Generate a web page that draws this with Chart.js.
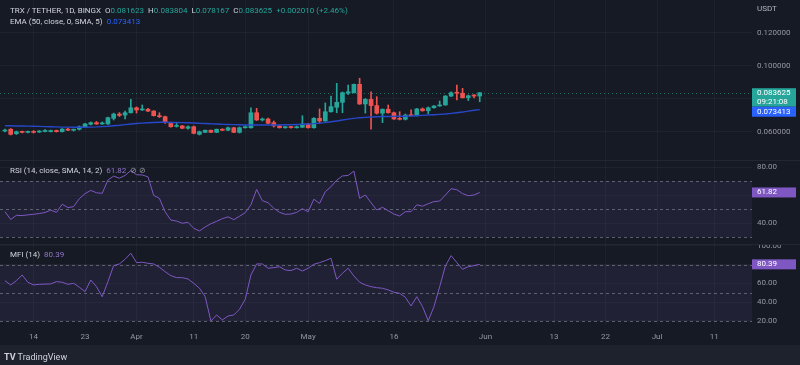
<!DOCTYPE html>
<html>
<head>
<meta charset="utf-8">
<script src="https://cdn.jsdelivr.net/npm/chart.js@4.4.0/dist/chart.umd.min.js"></script>
<style>
  html, body { margin: 0; padding: 0; width: 800px; height: 365px; overflow: hidden; background: #161a25; font-family: Roboto, "Liberation Sans", sans-serif; }
  .pane { position: absolute; left: 0; width: 800px; }
  canvas { display: block; }
  .lbl { position: absolute; font-size: 8px; line-height: 10px; color: #b2b5be; white-space: nowrap; }
  .lbl span { margin-left: 4px; }
  .lbl b { font-weight: normal; }
  .up { color: #26a69a; }
  .blue { color: #2962ff; }
  .purple { color: #9575cd; }
  .sep { position: absolute; left: 0; width: 800px; height: 1px; background: #232734; }
  #footer { position: absolute; left: 0; top: 345px; width: 800px; height: 20px; background: #1e222d; }
</style>
</head>
<body>
<div class="pane" style="top:0;height:160px"><canvas id="main" width="800" height="160"></canvas></div>
<div class="sep" style="top:160px"></div>
<div class="pane" style="top:161px;height:83px"><canvas id="rsi" width="800" height="83"></canvas></div>
<div class="sep" style="top:244px"></div>
<div class="pane" style="top:245px;height:100px"><canvas id="mfi" width="800" height="100"></canvas></div>
<div id="footer"></div>

<div class="lbl" style="left:10px;top:6px;color:#d1d4dc">TRX / TETHER, 1D, BINGX<span>O<b class="up">0.081623</b></span><span>H<b class="up">0.083804</b></span><span>L<b class="up">0.078167</b></span><span>C<b class="up">0.083625</b></span><span class="up">+0.002010 (+2.46%)</span></div>
<div class="lbl" style="left:10px;top:17px;color:#d1d4dc">EMA (50, close, 0, SMA, 5)<span class="blue">0.073413</span></div>
<div class="lbl" style="left:757px;top:4px;color:#b2b5be">USDT</div>
<div class="lbl" style="left:10px;top:166px;color:#d1d4dc">RSI (14, close, SMA, 14, 2)<span class="purple">61.82</span><span style="color:#9598a1">⊘ ⊘</span></div>
<div class="lbl" style="left:10px;top:250px;color:#d1d4dc">MFI (14)<span class="purple">80.39</span></div>
<div class="lbl" style="left:4px;top:352px;color:#d1d4dc;font-size:9px"><b style="font-weight:bold">TV</b> TradingView</div>

<script>
// TRX / USDT daily, Mar 9 .. May 31 (day index 0 = Mar 9)
const opens = [
  .0604, .0615, .0588, .0601, .0596, .0601, .0598, .0601, .0601, .0607,
  .0600, .0616, .0609, .0615, .0628, .0645, .0655, .0647, .0647, .0681,
  .0707, .0701, .0715, .0745, .0732, .0736, .0725, .0697, .0691, .0655,
  .0632, .0635, .0621, .0630, .0584, .0596, .0609, .0596, .0615, .0609,
  .0624, .0596, .0624, .0624, .0715, .0671, .0677, .0655, .0635, .0624,
  .0627, .0624, .0627, .0647, .0624, .0681, .0665, .0721, .0748, .0778,
  .0833, .0836, .0887, .0768, .0796, .0758, .0712, .0736, .0715, .0681,
  .0675, .0701, .0697, .0738, .0727, .0745, .0756, .0762, .0816, .0839,
  .0833, .0806, .0822, .081623
];
const highs = [
  .0616, .0619, .0604, .0604, .0604, .0607, .0607, .0613, .0610, .0610,
  .0619, .0622, .0616, .0635, .0650, .0659, .0662, .0659, .0689, .0713,
  .0716, .0725, .0796, .0750, .0762, .0741, .0728, .0715, .0695, .0659,
  .0651, .0638, .0635, .0635, .0604, .0610, .0610, .0616, .0618, .0628,
  .0627, .0628, .0635, .0745, .0742, .0683, .0683, .0665, .0641, .0632,
  .0632, .0635, .0697, .0650, .0686, .0738, .0774, .0816, .0893, .0841,
  .0883, .0889, .0924, .0801, .0842, .0812, .0738, .0762, .0719, .0721,
  .0707, .0732, .0741, .0744, .0750, .0759, .0786, .0819, .0841, .0883,
  .0863, .0822, .0825, .083804
];
const lows = [
  .0598, .0580, .0583, .0592, .0593, .0592, .0595, .0598, .0598, .0598,
  .0598, .0606, .0604, .0610, .0625, .0641, .0644, .0644, .0644, .0671,
  .0692, .0677, .0713, .0713, .0728, .0722, .0695, .0686, .0650, .0628,
  .0628, .0618, .0616, .0587, .0580, .0594, .0595, .0594, .0606, .0606,
  .0594, .0592, .0622, .0622, .0668, .0665, .0647, .0628, .0622, .0621,
  .0621, .0622, .0624, .0621, .0621, .0651, .0663, .0719, .0715, .0715,
  .0825, .0835, .0765, .0713, .0615, .0707, .0655, .0712, .0674, .0671,
  .0671, .0695, .0695, .0724, .0709, .0742, .0754, .0760, .0813, .0792,
  .0804, .0789, .0804, .078167
];
const closes = [
  .0610, .0584, .0600, .0596, .0601, .0596, .0604, .0606, .0607, .0600,
  .0616, .0609, .0613, .0630, .0647, .0655, .0647, .0653, .0685, .0707,
  .0699, .0715, .0745, .0732, .0736, .0725, .0697, .0691, .0655, .0630,
  .0635, .0621, .0630, .0590, .0600, .0609, .0596, .0615, .0609, .0624,
  .0596, .0624, .0628, .0715, .0671, .0675, .0651, .0635, .0624, .0627,
  .0625, .0630, .0647, .0624, .0681, .0665, .0721, .0752, .0778, .0836,
  .0842, .0887, .0768, .0796, .0758, .0712, .0736, .0715, .0677, .0675,
  .0701, .0697, .0738, .0727, .0745, .0756, .0762, .0816, .0836, .0833,
  .0806, .0818, .0816, .083625
];
const ema50 = [
  .0636, .0636, .0635, .0635, .0634, .0633, .0632, .0631, .0630, .0629,
  .0628, .0628, .0627, .0627, .0627, .0628, .0629, .0631, .0633, .0636,
  .0639, .0643, .0647, .0650, .0652, .0654, .0656, .0657, .0657, .0656,
  .0656, .0655, .0654, .0653, .0651, .0650, .0648, .0647, .0645, .0644,
  .0643, .0642, .0641, .0641, .0641, .0641, .0641, .0641, .0641, .0642,
  .0642, .0644, .0645, .0647, .0649, .0652, .0655, .0660, .0665, .0671,
  .0676, .0681, .0685, .0687, .0689, .0691, .0692, .0692, .0693, .0694,
  .0694, .0695, .0697, .0699, .0701, .0703, .0705, .0707, .0711, .0715,
  .0719, .0725, .0730, .073413
];
const rsi14 = [
  48.1, 42.5, 45.5, 45.3, 45.8, 46.2, 46.8, 47.5, 49.2, 47.6,
  53.4, 51.0, 51.7, 57.4, 61.0, 63.3, 61.6, 61.2, 70.7, 73.5,
  72.0, 74.0, 77.5, 74.5, 74.3, 73.0, 59.7, 57.6, 48.0, 42.1,
  41.4, 39.8, 40.5, 36.2, 34.3, 37.2, 39.5, 41.2, 43.1, 44.4,
  42.4, 44.8, 47.4, 53.0, 64.0, 56.0, 54.5, 50.5, 47.6, 46.2,
  46.4, 47.6, 50.2, 48.0, 57.0, 54.0, 62.4, 65.9, 70.7, 73.6,
  74.0, 77.1, 57.6, 60.0, 54.5, 49.3, 51.2, 48.8, 46.4, 45.0,
  48.1, 48.1, 53.0, 52.0, 53.8, 55.3, 55.7, 60.0, 64.5, 63.8,
  61.0, 59.5, 60.0, 61.82
];
const mfi14 = [
  63.0, 58.4, 63.0, 69.0, 61.3, 58.4, 59.1, 59.3, 59.5, 62.0,
  61.3, 59.1, 60.2, 56.0, 51.3, 63.7, 56.6, 45.9, 62.0, 79.0,
  80.8, 85.8, 92.2, 82.2, 82.6, 81.5, 80.8, 77.3, 72.6, 68.3,
  66.2, 66.2, 64.8, 60.2, 54.9, 45.9, 20.0, 26.4, 21.1, 25.3,
  26.4, 32.5, 43.1, 69.0, 80.8, 80.8, 76.2, 76.9, 77.9, 74.4,
  73.7, 76.2, 73.3, 76.2, 80.5, 82.2, 84.3, 86.9, 64.5, 70.9,
  76.2, 68.0, 61.3, 58.4, 56.6, 55.5, 54.9, 53.1, 50.6, 49.5,
  45.3, 36.0, 45.9, 35.3, 20.3, 35.3, 56.6, 78.7, 89.7, 82.2,
  75.1, 77.9, 79.0, 80.39
];

const tickDays = [5, 14, 23, 33, 42, 53, 68, 84, 96, 105, 114, 124];
const tickLabels = ['14', '23', 'Apr', '11', '20', 'May', '16', 'Jun', '13', '22', 'Jul', '11'];
const priceTicks = [0.06, 0.08, 0.10, 0.12];
const rsiTicks = [40, 60, 80];
const mfiTicks = [20, 40, 60, 80, 100];
const rsiLevels = [70, 50, 30];
const mfiLevels = [80, 50, 20];

const UP = '#26a69a', DOWN = '#ef5350', BLUE = '#2962ff', PURPLE = '#7e57c2';
const EMA_LINE = '#2747c9';
const GRID = 'rgba(255,255,255,0.035)';
const FONT = 'Roboto, "Liberation Sans", sans-serif';
const X_MIN = -0.87, X_MAX = 130.6;
const AXIS_W = 48;

const idx = closes.map((_, i) => i);
const candleColor = idx.map(i => closes[i] >= opens[i] ? UP : DOWN);

function xAxis(withLabels) {
  return {
    type: 'linear', min: X_MIN, max: X_MAX, offset: false,
    afterBuildTicks: s => { s.ticks = tickDays.map(v => ({ value: v })); },
    afterFit: s => { s.height = withLabels ? 20 : 0; s.paddingLeft = 0; s.paddingRight = 0; },
    grid: { color: GRID, drawTicks: false, offset: false },
    border: { display: false },
    ticks: {
      display: withLabels, color: '#9598a1', padding: 7, maxRotation: 0, autoSkip: false,
      font: { size: 8, family: FONT },
      callback: v => tickLabels[tickDays.indexOf(v)]
    }
  };
}

function yAxis(min, max, ticks, hidden, digits) {
  return {
    position: 'right', min, max,
    afterBuildTicks: s => { s.ticks = ticks.map(v => ({ value: v })); },
    afterFit: s => { s.width = AXIS_W; s.paddingTop = 0; s.paddingBottom = 0; },
    grid: { color: GRID, drawTicks: false },
    border: { display: false },
    ticks: {
      color: '#9598a1', padding: 5, font: { size: 8, family: FONT },
      callback: v => hidden.includes(v) ? '' : v.toFixed(digits)
    }
  };
}

function valueBox(ctx, area, y, h, bg, lines) {
  ctx.fillStyle = bg;
  ctx.fillRect(area.right, y, 44, h);
  ctx.fillStyle = '#ffffff';
  ctx.font = '8px ' + FONT;
  ctx.textAlign = 'left';
  ctx.textBaseline = 'middle';
  const lh = h / lines.length;
  lines.forEach((t, k) => ctx.fillText(t, area.right + 5, y + lh * k + lh / 2));
}

const baseOptions = {
  responsive: false, animation: false,
  layout: { padding: 0 },
  plugins: { legend: { display: false }, tooltip: { enabled: false } }
};

// price pane
const lastClose = closes[closes.length - 1];
const lastEma = ema50[ema50.length - 1];
const pricePlugin = {
  id: 'priceMarks',
  beforeDatasetsDraw(chart) {
    const { ctx, chartArea: a, scales: { y } } = chart;
    const py = Math.round(y.getPixelForValue(lastClose)) + 0.5;
    ctx.save();
    ctx.strokeStyle = 'rgba(38,166,154,0.6)';
    ctx.setLineDash([1, 3]);
    ctx.lineWidth = 1;
    ctx.beginPath(); ctx.moveTo(a.left, py); ctx.lineTo(a.right, py); ctx.stroke();
    ctx.restore();
  },
  afterDraw(chart) {
    const { ctx, chartArea: a, scales: { y } } = chart;
    const py = y.getPixelForValue(lastClose);
    const top = py - 4.5;
    ctx.save();
    valueBox(ctx, a, top, 18.5, UP, [lastClose.toFixed(6), '09:21:08']);
    const eTop = Math.max(y.getPixelForValue(lastEma) - 5, top + 18.5);
    valueBox(ctx, a, eTop, 10, BLUE, [lastEma.toFixed(6)]);
    ctx.restore();
  }
};

new Chart(document.getElementById('main'), {
  type: 'bar',
  data: {
    datasets: [
      {
        type: 'line', data: idx.map(i => ({ x: i, y: ema50[i] })),
        borderColor: EMA_LINE, borderWidth: 1.4, pointRadius: 0, tension: 0, order: 0
      },
      {
        data: idx.map(i => ({ x: i, y: [lows[i], highs[i]] })),
        backgroundColor: candleColor, barThickness: 1, grouped: false, order: 2
      },
      {
        data: idx.map(i => ({ x: i, y: [opens[i], closes[i]] })),
        backgroundColor: candleColor, barThickness: 4, minBarLength: 1, grouped: false, order: 1
      }
    ]
  },
  options: Object.assign({}, baseOptions, {
    scales: {
      x: xAxis(false),
      y: yAxis(0.04285, 0.13982, priceTicks, [0.08], 6)
    }
  }),
  plugins: [pricePlugin]
});

// oscillator panes
function bandPlugin(levels, last) {
  return {
    id: 'band',
    beforeDatasetsDraw(chart) {
      const { ctx, chartArea: a, scales: { y } } = chart;
      const top = y.getPixelForValue(levels[0]);
      const bot = y.getPixelForValue(levels[2]);
      ctx.save();
      ctx.fillStyle = 'rgba(126,87,194,0.11)';
      ctx.fillRect(a.left, top, a.right - a.left, bot - top);
      ctx.strokeStyle = 'rgba(150,153,165,0.55)';
      ctx.setLineDash([3, 3]);
      ctx.lineWidth = 1;
      levels.forEach(v => {
        const py = Math.round(y.getPixelForValue(v)) + 0.5;
        ctx.beginPath(); ctx.moveTo(a.left, py); ctx.lineTo(a.right, py); ctx.stroke();
      });
      ctx.restore();
    },
    afterDraw(chart) {
      const { ctx, chartArea: a, scales: { y } } = chart;
      ctx.save();
      valueBox(ctx, a, y.getPixelForValue(last) - 5, 10, PURPLE, [last.toFixed(2)]);
      ctx.restore();
    }
  };
}

function oscillator(id, values, min, max, ticks, hidden, levels, withTime) {
  new Chart(document.getElementById(id), {
    type: 'line',
    data: {
      datasets: [{
        data: idx.map(i => ({ x: i, y: values[i] })),
        borderColor: PURPLE, borderWidth: 1, pointRadius: 0, tension: 0
      }]
    },
    options: Object.assign({}, baseOptions, {
      scales: {
        x: xAxis(withTime),
        y: yAxis(min, max, ticks, hidden, 2)
      }
    }),
    plugins: [bandPlugin(levels, values[values.length - 1])]
  });
}

oscillator('rsi', rsi14, 25.0, 84.3, rsiTicks, [60], rsiLevels, false);
oscillator('mfi', mfi14, 15.73, 101.0, mfiTicks, [80], mfiLevels, true);
</script>
</body>
</html>
